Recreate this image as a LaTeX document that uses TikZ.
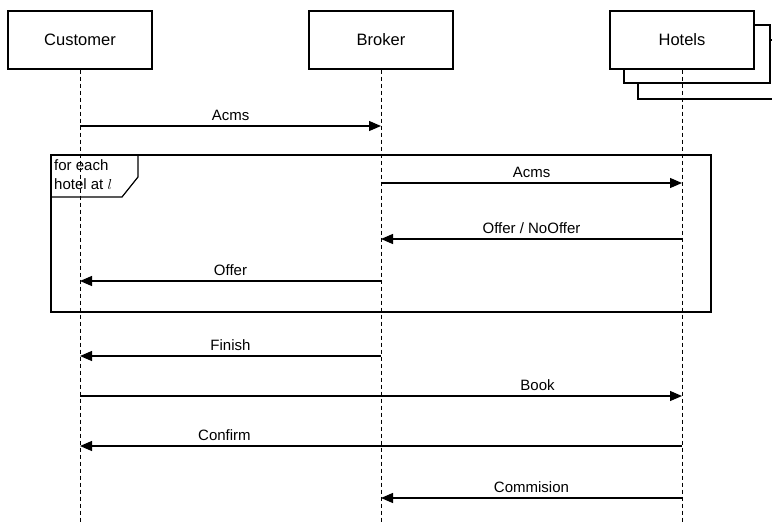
\documentclass[tikz,border=0pt]{standalone}
\usepackage{fontspec}
\setmainfont{Liberation Sans}
\usetikzlibrary{arrows.meta}
\tikzset{
	actor/.style={draw,fill=white,line width=1.2pt,minimum width=144pt,minimum height=58pt,inner sep=0pt,font=\fontsize{16.5}{18}\selectfont},%
	lifeline/.style={dashed,line width=1pt,dash pattern=on 4pt off 3pt},%
	msg/.style={-{Triangle[length=12pt,width=10pt]},line width=1.2pt},%
	msglabel/.style={above=1pt,font=\fontsize{15}{17}\selectfont},%
	frame/.style={line width=1.2pt},%
}
\def\bottomy{530}

\begin{document}
\begin{tikzpicture}[%
		x=1pt,y=-1pt,%
		]
		\useasboundingbox (0,0) rectangle (772,523);
		% actors
		\node[actor] (cust) at (80,40) {Customer};
		\node[actor] (brok) at (381,40) {Broker};
		\draw[actor] (638,40) rectangle (790,99);
		\draw[actor] (624,25) rectangle (770,83);
		\node[actor] (hotl) at (682,40) {Hotels};
		% lifelines
		\draw[lifeline] (cust.south) -- (cust.south |- 0,\bottomy);
		\draw[lifeline] (brok.south) -- (brok.south |- 0,\bottomy);
		\draw[lifeline] (hotl.south) -- (hotl.south |- 0,\bottomy);
		% messages
		\draw[msg] (cust.south |- 0,126) -- (brok.south |- 0,126) node[midway,msglabel]{Acms};
		\draw[msg] (brok.south |- 0,183) -- (hotl.south |- 0,183) node[midway,msglabel]{Acms};
		\draw[msg] (hotl.south |- 0,239) -- (brok.south |- 0,239) node[midway,msglabel]{Offer / NoOffer};
		\draw[msg] (brok.south |- 0,281) -- (cust.south |- 0,281) node[midway,msglabel]{Offer};
		\draw[msg] (brok.south |- 0,356) -- (cust.south |- 0,356) node[midway,msglabel]{Finish};
		\draw[msg] (cust.south |- 0,396) -- (hotl.south |- 0,396) node[pos=0.76,msglabel]{Book};
		\draw[msg] (hotl.south |- 0,446) -- (cust.south |- 0,446) node[pos=0.76,msglabel]{Confirm};
		\draw[msg] (hotl.south |- 0,498) -- (brok.south |- 0,498) node[midway,msglabel]{Commision};
		% loop frame
		\draw[frame] (51,155) rectangle (711,312);
		\draw[frame] (51,155) -- (138,155) -- (138,177) -- (122,197) -- (51,197);
		\node[anchor=north west,inner sep=0pt,align=left,font=\fontsize{15}{19}\selectfont] (loop) at (54,159) {for each\\hotel at \(l\)};
	\end{tikzpicture}
\end{document}
